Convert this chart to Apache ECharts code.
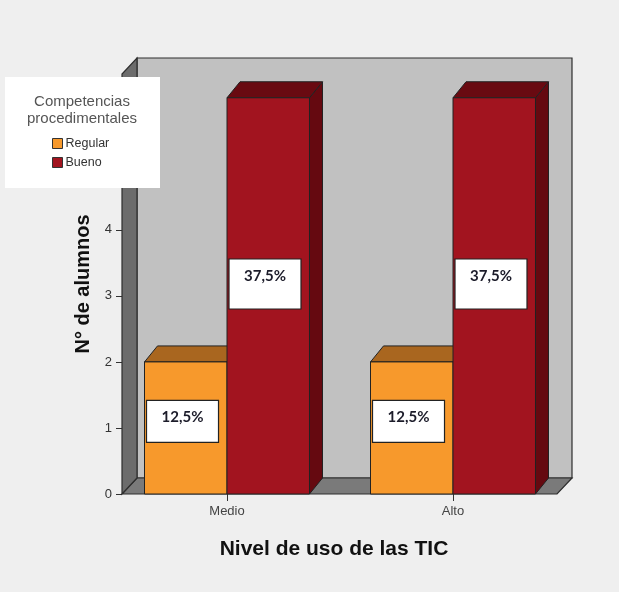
<!DOCTYPE html>
<html>
<head>
<meta charset="utf-8">
<script src="https://cdn.jsdelivr.net/npm/echarts@6/dist/echarts.min.js"></script>
<style>
  html, body { margin: 0; padding: 0; background: #efefef; }
  #chart { width: 619px; height: 592px; }
</style>
</head>
<body>
<div id="chart"></div>
<script>
// datos
var categories = ['Medio', 'Alto'];
var regularValues = [2, 2];
var buenoValues = [6, 6];
var regularLabels = ['12,5%', '12,5%'];
var buenoLabels = ['37,5%', '37,5%'];
var yMin = 0;
var yMax = 6.36;
var yStep = 1;

var chart = echarts.init(document.getElementById('chart'));

// paredes 3D (fondo, izquierda, suelo)
function renderWalls(params, api) {
  var cs = params.coordSys;
  var x0 = cs.x + 8, x1 = cs.x + cs.width - 9;
  var yT = cs.y, yB = cs.y + cs.height;
  var d = 15, h = 16;
  var line = { stroke: '#2e2e2e', lineWidth: 1.2 };
  return {
    type: 'group',
    children: [
      { type: 'polygon', shape: { points: [[x0 + d, yT - h], [x1 + d, yT - h], [x1 + d, yB - h], [x0 + d, yB - h]] },
        style: Object.assign({ fill: '#c1c1c1' }, line) },
      { type: 'polygon', shape: { points: [[x0, yB], [x1, yB], [x1 + d, yB - h], [x0 + d, yB - h]] },
        style: Object.assign({ fill: '#7a7a7a' }, line) },
      { type: 'polygon', shape: { points: [[x0, yB], [x0, yT], [x0 + d, yT - h], [x0 + d, yB - h]] },
        style: Object.assign({ fill: '#6c6c6c' }, line) }
    ]
  };
}

function barRenderer(side, colors, labels, labelFrac, labelH) {
  return function (params, api) {
    var cat = api.value(0), val = api.value(1);
    var base = api.coord([cat, 0]);
    var top = api.coord([cat, val]);
    var bw = api.size([1, 0])[0] * 0.365;
    var x = side === 0 ? base[0] - bw : base[0];
    var yT = top[1], yB = base[1];
    var d = 13, h = 16;
    var lc = api.coord([cat, val * labelFrac])[1];
    var lx = x + 2, lw = 72, ly = lc - labelH / 2;
    return {
      type: 'group',
      children: [
        { type: 'polygon', shape: { points: [[x + bw, yT], [x + bw + d, yT - h], [x + bw + d, yB - h], [x + bw, yB]] },
          style: { fill: colors.side, stroke: '#222', lineWidth: 1 } },
        { type: 'polygon', shape: { points: [[x, yT], [x + bw, yT], [x + bw + d, yT - h], [x + d, yT - h]] },
          style: { fill: colors.top, stroke: '#222', lineWidth: 1 } },
        { type: 'rect', shape: { x: x, y: yT, width: bw, height: yB - yT },
          style: { fill: colors.front, stroke: '#222', lineWidth: 1 } },
        { type: 'rect', shape: { x: lx, y: ly, width: lw, height: labelH },
          style: { fill: '#ffffff', stroke: '#222', lineWidth: 1.2 } },
        { type: 'text', style: { text: labels[params.dataIndex], x: lx + lw / 2, y: ly + 17,
          align: 'center', verticalAlign: 'middle', fontFamily: 'Lato', fontWeight: 'bold',
          fontSize: 15, fill: '#1c1c2a' } }
      ]
    };
  };
}

var option = {
  backgroundColor: '#efefef',
  animation: false,
  textStyle: { fontFamily: 'Liberation Sans' },
  grid: { left: 114, right: 53, top: 74, bottom: 98 },
  legend: {
    data: ['Regular', 'Bueno'],
    orient: 'vertical',
    left: 52,
    top: 137,
    padding: 0,
    itemWidth: 10,
    itemHeight: 10,
    itemGap: 6,
    icon: 'rect',
    itemStyle: { borderColor: '#333', borderWidth: 1 },
    textStyle: { fontSize: 12.5, color: '#333', padding: [0, 0, 0, -2] },
    z: 12
  },
  graphic: [
    { type: 'rect', left: 5, top: 77, z: 10, shape: { width: 155, height: 111 }, style: { fill: '#ffffff' } },
    { type: 'text', z: 11, x: 82, y: 110,
      style: { text: 'Competencias\nprocedimentales', align: 'center', verticalAlign: 'middle',
        fontSize: 15, lineHeight: 17, fill: '#555', fontFamily: 'Liberation Sans' } }
  ],
  xAxis: {
    type: 'category',
    data: categories,
    axisLine: { show: false },
    axisTick: { show: true, alignWithLabel: true, length: 7, lineStyle: { color: '#333' } },
    axisLabel: { margin: 11, fontSize: 13, color: '#444' },
    splitLine: { show: false },
    name: 'Nivel de uso de las TIC',
    nameLocation: 'middle',
    nameGap: 45,
    nameTextStyle: { fontSize: 21, fontWeight: 'bold', color: '#111', padding: [0, 12, 0, 0] }
  },
  yAxis: {
    type: 'value',
    min: yMin,
    max: yMax,
    interval: yStep,
    offset: -8,
    axisLine: { show: false },
    axisTick: { show: true, length: 6, lineStyle: { color: '#333' } },
    axisLabel: { margin: 10, fontSize: 13, color: '#333', showMaxLabel: false },
    splitLine: { show: false },
    name: 'N° de alumnos',
    nameLocation: 'middle',
    nameGap: 20,
    nameTextStyle: { fontSize: 20, fontWeight: 'bold', color: '#111' }
  },
  series: [
    {
      name: 'walls',
      type: 'custom',
      silent: true,
      z: 1,
      renderItem: renderWalls,
      data: [[0, 0]]
    },
    {
      name: 'Regular',
      type: 'custom',
      z: 2,
      itemStyle: { color: '#f7992c' },
      renderItem: barRenderer(0, { front: '#f7992c', top: '#a9661f', side: '#a9661f' }, regularLabels, 0.55, 42),
      data: regularValues.map(function (v, i) { return [i, v]; })
    },
    {
      name: 'Bueno',
      type: 'custom',
      z: 3,
      itemStyle: { color: '#a2141f' },
      renderItem: barRenderer(1, { front: '#a2141f', top: '#690a11', side: '#650910' }, buenoLabels, 0.53, 50),
      data: buenoValues.map(function (v, i) { return [i, v]; })
    }
  ]
};

chart.setOption(option);
</script>
</body>
</html>
